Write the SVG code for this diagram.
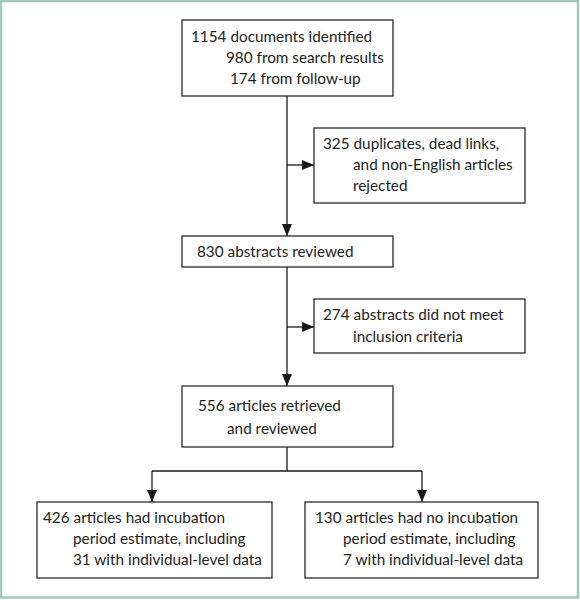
<svg xmlns="http://www.w3.org/2000/svg" width="580" height="600" viewBox="0 0 580 600">
<defs>
<marker id="ah" viewBox="0 0 12 10" refX="12" refY="5" markerWidth="12" markerHeight="10" markerUnits="userSpaceOnUse" orient="auto">
<path d="M0,0 L12,5 L0,10 Z" fill="#1a1a1a"/>
</marker>
<style>
.box{fill:#fff;stroke:#2a2a2a;stroke-width:1.3}
.t{font-family:Lato,"Open Sans","Liberation Sans",sans-serif;font-size:15.3px;fill:#222}
.c{fill:none;stroke:#1a1a1a;stroke-width:1.3}
</style>
</defs>
<rect x="0" y="0" width="580" height="600" fill="#fff"/>
<rect x="1" y="1" width="577" height="596.5" fill="none" stroke="#a3c9bc" stroke-width="2.5"/>
<g id="connectors">
<line class="c" x1="287" y1="96" x2="287" y2="236" marker-end="url(#ah)"/>
<line class="c" x1="287" y1="165" x2="314" y2="165" marker-end="url(#ah)"/>
<line class="c" x1="287" y1="267" x2="287" y2="386" marker-end="url(#ah)"/>
<line class="c" x1="287" y1="327" x2="314" y2="327" marker-end="url(#ah)"/>
<line class="c" x1="287" y1="447" x2="287" y2="471"/>
<line class="c" x1="152" y1="471" x2="422" y2="471"/>
<line class="c" x1="152" y1="471" x2="152" y2="502" marker-end="url(#ah)"/>
<line class="c" x1="422" y1="471" x2="422" y2="502" marker-end="url(#ah)"/>
</g>
<g id="n1">
<rect class="box" x="182" y="20" width="211" height="76"/>
<text class="t" x="191" y="42">1154 documents identified</text>
<text class="t" x="226" y="63">980 from search results</text>
<text class="t" x="230" y="84">174 from follow-up</text>
</g>
<g id="n2">
<rect class="box" x="314" y="128" width="211" height="75"/>
<text class="t" x="323" y="149">325 duplicates, dead links,</text>
<text class="t" x="353" y="170">and non-English articles</text>
<text class="t" x="353" y="191">rejected</text>
</g>
<g id="n3">
<rect class="box" x="182" y="236" width="211" height="31"/>
<text class="t" x="197" y="257">830 abstracts reviewed</text>
</g>
<g id="n4">
<rect class="box" x="314" y="299" width="211" height="54"/>
<text class="t" x="323" y="320">274 abstracts did not meet</text>
<text class="t" x="353" y="342">inclusion criteria</text>
</g>
<g id="n5">
<rect class="box" x="182" y="386" width="211" height="61"/>
<text class="t" x="198" y="411">556 articles retrieved</text>
<text class="t" x="227" y="434">and reviewed</text>
</g>
<g id="n6">
<rect class="box" x="37" y="502" width="235" height="76"/>
<text class="t" x="43" y="523">426 articles had incubation</text>
<text class="t" x="73" y="544">period estimate, including</text>
<text class="t" x="73" y="565">31 with individual-level data</text>
</g>
<g id="n7">
<rect class="box" x="305" y="502" width="233" height="76"/>
<text class="t" x="315" y="523">130 articles had no incubation</text>
<text class="t" x="343" y="544">period estimate, including</text>
<text class="t" x="343" y="565">7 with individual-level data</text>
</g>
</svg>
